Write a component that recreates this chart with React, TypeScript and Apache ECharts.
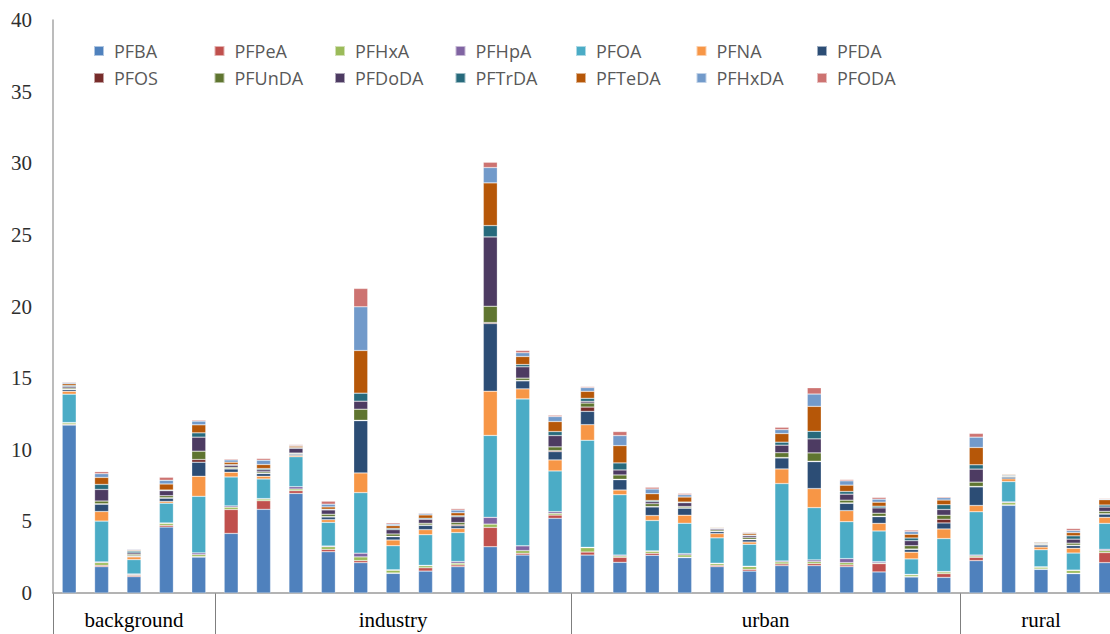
import { useEffect, useRef } from "react";
import * as echarts from "echarts";

const sampleIds = [
  "B1", "B2", "B3", "B4", "B5",
  "I1", "I2", "I3", "I4", "I5", "I6", "I7", "I8", "I9", "I10", "I11",
  "U1", "U2", "U3", "U4", "U5", "U6", "U7", "U8", "U9", "U10", "U11", "U12",
  "R1", "R2", "R3", "R4", "R5",
];
const groupNames = ["background", "industry", "urban", "rural"];
const groupSizes = [5, 11, 12, 5];
const yTicks = [0, 5, 10, 15, 20, 25, 30, 35, 40];

const seriesNames = [
  "PFBA", "PFPeA", "PFHxA", "PFHpA", "PFOA", "PFNA", "PFDA",
  "PFOS", "PFUnDA", "PFDoDA", "PFTrDA", "PFTeDA", "PFHxDA", "PFODA",
];
const seriesColors = [
  "#4F81BD", "#C0504D", "#9BBB59", "#8064A2", "#4BACC6", "#F79646", "#2C4D75",
  "#772C2A", "#5F7530", "#4D3B62", "#276A7C", "#B65708", "#729ACA", "#CD7371",
];

const PFBA = [11.72, 1.84, 1.14, 4.6, 2.51, 4.16, 5.84, 6.95, 2.88, 2.12, 1.37, 1.53, 1.84, 3.23, 2.65, 5.21, 2.65, 2.14, 2.63, 2.47, 1.84, 1.53, 1.91, 1.91, 1.84, 1.47, 1.12, 1.09, 2.26, 6.12, 1.65, 1.35, 2.12];
const PFPeA = [0.05, 0.09, 0.09, 0.12, 0.03, 1.67, 0.6, 0.19, 0.16, 0.14, 0.03, 0.23, 0.12, 1.35, 0.12, 0.23, 0.21, 0.35, 0.14, 0.03, 0.09, 0.12, 0.12, 0.14, 0.12, 0.58, 0.03, 0.26, 0.23, 0.03, 0.03, 0.03, 0.7];
const PFHxA = [0.1, 0.19, 0.05, 0.14, 0.14, 0.16, 0.12, 0.12, 0.19, 0.26, 0.19, 0.14, 0.12, 0.23, 0.19, 0.12, 0.3, 0.09, 0.14, 0.16, 0.12, 0.19, 0.14, 0.14, 0.16, 0.05, 0.12, 0.12, 0.09, 0.16, 0.12, 0.19, 0.14];
const PFHpA = [0.03, 0.05, 0.05, 0.03, 0.12, 0.09, 0.03, 0.16, 0.05, 0.26, 0.03, 0.03, 0.12, 0.47, 0.33, 0.12, 0.03, 0.07, 0.03, 0.09, 0.03, 0.03, 0.07, 0.12, 0.28, 0.09, 0.03, 0.03, 0.07, 0.05, 0.03, 0.03, 0.09];
const PFOA = [1.98, 2.85, 1.0, 1.38, 3.95, 2.02, 1.37, 2.09, 1.65, 4.23, 1.68, 2.14, 2.02, 5.72, 10.26, 2.84, 7.47, 4.21, 2.12, 2.12, 1.77, 1.53, 5.4, 3.65, 2.58, 2.14, 1.08, 2.3, 3.02, 1.42, 1.19, 1.19, 1.81];
const PFNA = [0.2, 0.67, 0.19, 0.12, 1.4, 0.33, 0.19, 0.09, 0.19, 1.37, 0.4, 0.35, 0.28, 3.09, 0.7, 0.77, 1.09, 0.33, 0.35, 0.56, 0.3, 0.16, 1.02, 1.33, 0.77, 0.53, 0.47, 0.67, 0.44, 0.19, 0.19, 0.33, 0.42];
const PFDA = [0.12, 0.51, 0.05, 0.23, 0.98, 0.23, 0.19, 0.09, 0.19, 3.65, 0.23, 0.3, 0.19, 4.72, 0.56, 0.58, 0.93, 0.72, 0.6, 0.49, 0.14, 0.16, 0.77, 1.88, 0.51, 0.47, 0.19, 0.42, 1.3, 0.12, 0.14, 0.19, 0.23];
const PFOS = [0.03, 0.03, 0.03, 0.03, 0.19, 0.03, 0.03, 0.03, 0.03, 0.03, 0.03, 0.03, 0.07, 0.07, 0.03, 0.07, 0.3, 0.03, 0.03, 0.03, 0.03, 0.03, 0.03, 0.03, 0.03, 0.03, 0.03, 0.26, 0.03, 0.02, 0.02, 0.03, 0.03];
const PFUnDA = [0.08, 0.19, 0.1, 0.14, 0.58, 0.09, 0.09, 0.05, 0.16, 0.77, 0.16, 0.12, 0.16, 1.14, 0.16, 0.26, 0.28, 0.3, 0.19, 0.09, 0.09, 0.12, 0.33, 0.58, 0.19, 0.21, 0.23, 0.28, 0.3, 0.05, 0.05, 0.14, 0.16];
const PFDoDA = [0.1, 0.81, 0.1, 0.35, 0.98, 0.14, 0.14, 0.33, 0.3, 0.56, 0.3, 0.28, 0.4, 4.84, 0.79, 0.79, 0.12, 0.35, 0.14, 0.26, 0.09, 0.12, 0.53, 0.98, 0.42, 0.37, 0.35, 0.4, 0.91, 0.05, 0.05, 0.28, 0.3];
const PFTrDA = [0.08, 0.35, 0.12, 0.05, 0.3, 0.05, 0.09, 0.05, 0.05, 0.56, 0.09, 0.07, 0.07, 0.79, 0.16, 0.28, 0.21, 0.49, 0.09, 0.05, 0.03, 0.05, 0.21, 0.53, 0.19, 0.12, 0.19, 0.33, 0.3, 0.05, 0.05, 0.23, 0.14];
const PFTeDA = [0.12, 0.49, 0.06, 0.42, 0.56, 0.16, 0.28, 0.1, 0.16, 2.98, 0.19, 0.23, 0.21, 2.98, 0.56, 0.7, 0.49, 1.21, 0.47, 0.35, 0.05, 0.12, 0.6, 1.74, 0.44, 0.28, 0.26, 0.33, 1.21, 0.05, 0.05, 0.23, 0.37];
const PFHxDA = [0.08, 0.26, 0.06, 0.26, 0.26, 0.16, 0.3, 0.05, 0.19, 3.05, 0.1, 0.1, 0.19, 1.07, 0.26, 0.35, 0.26, 0.7, 0.33, 0.16, 0.03, 0.05, 0.28, 0.86, 0.3, 0.21, 0.19, 0.16, 0.72, 0.03, 0.03, 0.14, 0.05];
const PFODA = [0.05, 0.14, 0.04, 0.21, 0.07, 0.07, 0.12, 0.06, 0.21, 1.28, 0.09, 0.05, 0.1, 0.37, 0.16, 0.09, 0.07, 0.28, 0.12, 0.09, 0.03, 0.05, 0.16, 0.44, 0.09, 0.12, 0.1, 0.07, 0.26, 0.03, 0.03, 0.14, 0.05];

const seriesValues = [PFBA, PFPeA, PFHxA, PFHpA, PFOA, PFNA, PFDA, PFOS, PFUnDA, PFDoDA, PFTrDA, PFTeDA, PFHxDA, PFODA];

const CHART_W = 1122;
const CHART_H = 634;

export default function App() {
  const ref = useRef<HTMLDivElement>(null);

  useEffect(() => {
    if (!ref.current) return;
    const chart = echarts.init(ref.current, null, { renderer: "svg" });

    const legends = seriesNames.map((name, i) => ({
      left: 93 + (i % 7) * 120.5,
      top: i < 7 ? 42 : 69,
      padding: 0,
      icon: "rect",
      itemWidth: 10,
      itemHeight: 10,
      data: [name],
      textStyle: {
        fontFamily: "Open Sans",
        fontSize: 18,
        color: "#595959",
        padding: [0, 0, 0, 5],
      },
    }));

    chart.setOption({
      animation: false,
      backgroundColor: "#ffffff",
      legend: legends,
      grid: { left: 53, right: 0, top: 20, bottom: 41, containLabel: false },
      xAxis: {
        type: "category",
        data: sampleIds,
        axisLine: { show: true, lineStyle: { color: "#9a9a9a", width: 1.5 } },
        axisTick: { show: false },
        axisLabel: { show: false },
      },
      yAxis: {
        type: "value",
        min: 0,
        max: 40,
        interval: 5,
        axisLine: { show: true, lineStyle: { color: "#a6a6a6", width: 1.5 } },
        axisTick: { show: false },
        splitLine: { show: false },
        axisLabel: {
          margin: 21,
          fontFamily: "Liberation Serif",
          fontSize: 21,
          color: "#2e2e2e",
          formatter: (v: number) => (yTicks.includes(v) ? String(v) : ""),
        },
      },
      series: seriesNames.map((name, i) => ({
        name,
        type: "bar",
        stack: "total",
        barWidth: 14,
        data: seriesValues[i],
        itemStyle: {
          color: seriesColors[i],
          borderColor: "rgba(255,255,255,0.55)",
          borderWidth: 0.5,
        },
      })),
    });

    const c0 = chart.convertToPixel({ xAxisIndex: 0 }, sampleIds[0]) as number;
    const c1 = chart.convertToPixel({ xAxisIndex: 0 }, sampleIds[1]) as number;
    const band = c1 - c0;
    const yBase = chart.convertToPixel({ yAxisIndex: 0 }, 0) as number;

    const elements: any[] = [];
    let start = 0;
    groupNames.forEach((g, gi) => {
      const size = groupSizes[gi];
      const left = (chart.convertToPixel({ xAxisIndex: 0 }, sampleIds[start]) as number) - band / 2;
      const right = left + size * band;
      elements.push({
        type: "line",
        shape: { x1: Math.round(left) + 0.5, y1: yBase, x2: Math.round(left) + 0.5, y2: CHART_H },
        style: { stroke: "#7f7f7f", lineWidth: 1 },
        silent: true,
      });
      elements.push({
        type: "text",
        x: (left + right) / 2,
        y: 620,
        style: {
          text: g,
          fontFamily: "Liberation Serif",
          fontSize: 21,
          fill: "#000000",
          align: "center",
          verticalAlign: "middle",
        },
        silent: true,
      });
      start += size;
    });

    chart.setOption({ graphic: elements });

    return () => chart.dispose();
  }, []);

  return (
    <div
      style={{
        position: "absolute",
        left: 0,
        top: 0,
        width: 1110,
        height: CHART_H,
        overflow: "hidden",
      }}
    >
      <div ref={ref} style={{ width: CHART_W, height: CHART_H }} />
    </div>
  );
}
